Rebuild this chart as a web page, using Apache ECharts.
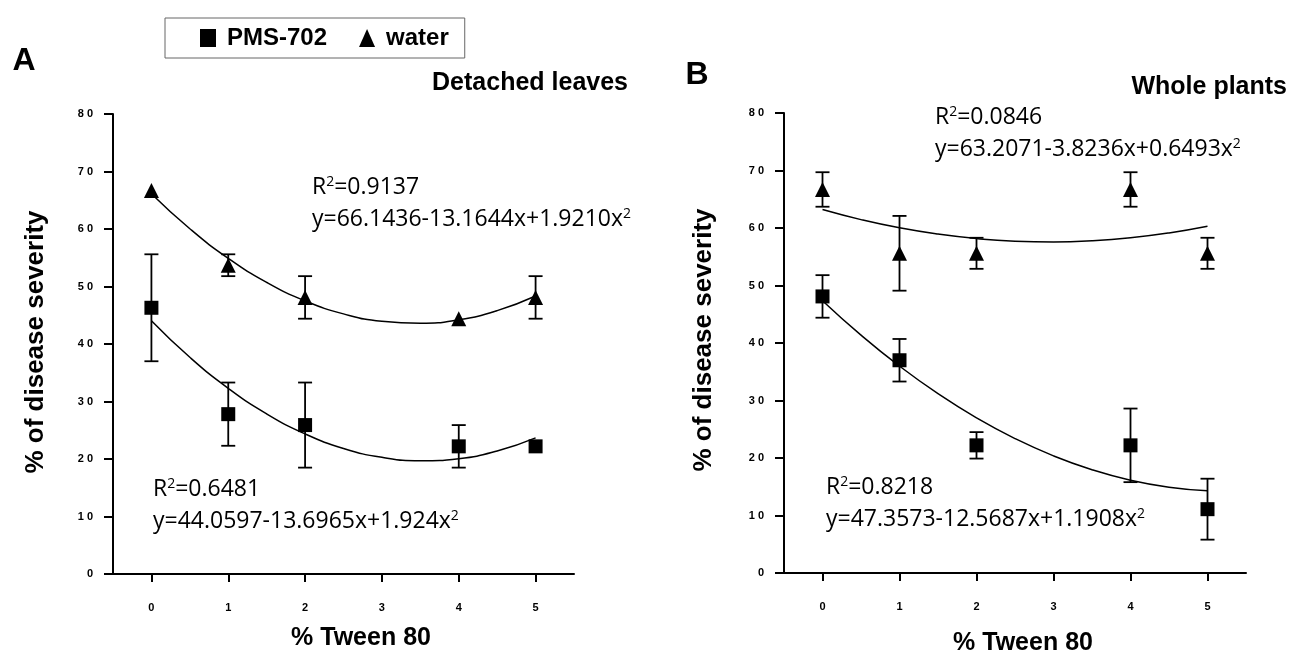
<!DOCTYPE html>
<html>
<head>
<meta charset="utf-8">
<script src="https://cdn.jsdelivr.net/npm/echarts@6/dist/echarts.min.js"></script>
<style>
  html, body { margin: 0; padding: 0; background: #fff; }
  #chart { width: 1290px; height: 653px; }
</style>
</head>
<body>
<div id="chart"></div>
<script>
// % Tween 80 levels
const tween = [0, 1, 2, 4, 5];
const xTicks = [0, 1, 2, 3, 4, 5];
const yTickLabels = ['0', '1 0', '2 0', '3 0', '4 0', '5 0', '6 0', '7 0', '8 0'];

// A - detached leaves (% of disease severity, +/- error)
const leafPms = [46.3, 27.8, 25.9, 22.2, 22.2];
const leafPmsErr = [9.3, 5.5, 7.4, 3.7, 0];
const leafWater = [66.7, 53.7, 48.1, 44.4, 48.1];
const leafWaterErr = [0, 1.9, 3.7, 0, 3.7];

// B - whole plants
const plantPms = [48.1, 37.0, 22.2, 22.2, 11.1];
const plantPmsErr = [3.7, 3.7, 2.3, 6.4, 5.3];
const plantWater = [66.7, 55.6, 55.6, 66.7, 55.6];
const plantWaterErr = [3.0, 6.5, 2.7, 3.0, 2.7];

// fitted curves, read at half steps
const fitX = [0, 0.5, 1, 1.5, 2, 2.5, 3, 3.5, 4, 4.5, 5];
const leafPmsFit = [44.06, 37.69, 32.29, 27.84, 24.36, 21.84, 20.29, 19.69, 20.06, 21.39, 23.68];
const leafWaterFit = [66.14, 60.04, 54.90, 50.72, 47.50, 45.24, 43.94, 43.60, 44.22, 45.80, 48.35];
const plantPmsFit = [47.36, 41.37, 35.98, 31.19, 26.98, 23.38, 20.37, 17.96, 16.14, 14.92, 14.29];
const plantWaterFit = [63.21, 61.46, 60.03, 58.94, 58.16, 57.71, 57.58, 57.78, 58.30, 59.15, 60.32];

const eqLeafWater = ['0.9137', 'y=66.1436-13.1644x+1.9210x'];
const eqLeafPms = ['0.6481', 'y=44.0597-13.6965x+1.924x'];
const eqPlantWater = ['0.0846', 'y=63.2071-3.8236x+0.6493x'];
const eqPlantPms = ['0.8218', 'y=47.3573-12.5687x+1.1908x'];

const black = '#000';
const boldFont = '"Liberation Sans", Arial, sans-serif';
const eqFont = '"Open Sans", sans-serif';

const pairs = (xs, ys) => xs.map((x, i) => [x, ys[i]]);
const errData = (vals, errs) => tween
    .map((x, i) => [x, vals[i] - errs[i], vals[i] + errs[i]])
    .filter(d => d[2] > d[1]);

const renderErr = (params, api) => {
    const x = api.value(0);
    const top = api.coord([x, api.value(2)]);
    const bot = api.coord([x, api.value(1)]);
    const w = 7;
    const st = { stroke: black, lineWidth: 1.8 };
    return {
        type: 'group',
        children: [
            { type: 'line', shape: { x1: top[0], y1: top[1], x2: bot[0], y2: bot[1] }, style: st },
            { type: 'line', shape: { x1: top[0] - w, y1: top[1], x2: top[0] + w, y2: top[1] }, style: st },
            { type: 'line', shape: { x1: bot[0] - w, y1: bot[1], x2: bot[0] + w, y2: bot[1] }, style: st },
        ],
    };
};

const mkX = (idx) => ({
    type: 'value',
    gridIndex: idx,
    min: -0.5,
    max: 5.5,
    axisLine: { onZero: false, lineStyle: { color: black, width: 2 } },
    axisTick: { show: true, customValues: xTicks, length: 8, lineStyle: { color: black, width: 2 } },
    axisLabel: { customValues: xTicks, margin: 28, color: black, fontSize: 11, fontWeight: 'bold', fontFamily: boldFont },
    splitLine: { show: false },
});

const mkY = (idx) => ({
    type: 'value',
    gridIndex: idx,
    min: 0,
    max: 80,
    interval: 10,
    axisLine: { show: true, onZero: false, lineStyle: { color: black, width: 2 } },
    axisTick: { show: true, length: 9, lineStyle: { color: black, width: 2 } },
    axisLabel: {
        margin: 20, color: black, fontSize: 11, fontWeight: 'bold', fontFamily: boldFont,
        formatter: v => yTickLabels[Math.round(v / 10)],
    },
    splitLine: { show: false },
});

const panelSeries = (idx, pms, pmsErr, water, waterErr, pmsFit, waterFit) => [
    {
        name: 'fit-pms-' + idx, type: 'line', xAxisIndex: idx, yAxisIndex: idx,
        data: pairs(fitX, pmsFit), smooth: true, showSymbol: false, silent: true,
        lineStyle: { color: black, width: 1.5 }, z: 2,
    },
    {
        name: 'fit-water-' + idx, type: 'line', xAxisIndex: idx, yAxisIndex: idx,
        data: pairs(fitX, waterFit), smooth: true, showSymbol: false, silent: true,
        lineStyle: { color: black, width: 1.5 }, z: 2,
    },
    {
        name: 'err-pms-' + idx, type: 'custom', xAxisIndex: idx, yAxisIndex: idx,
        data: errData(pms, pmsErr), renderItem: renderErr, encode: { x: 0, y: [1, 2] }, z: 3,
    },
    {
        name: 'err-water-' + idx, type: 'custom', xAxisIndex: idx, yAxisIndex: idx,
        data: errData(water, waterErr), renderItem: renderErr, encode: { x: 0, y: [1, 2] }, z: 3,
    },
    {
        name: 'PMS-702', type: 'scatter', xAxisIndex: idx, yAxisIndex: idx,
        data: pairs(tween, pms), symbol: 'rect', symbolSize: 14,
        itemStyle: { color: black, opacity: 1 }, z: 4,
    },
    {
        name: 'water', type: 'scatter', xAxisIndex: idx, yAxisIndex: idx,
        data: pairs(tween, water), symbol: 'triangle', symbolSize: 15,
        itemStyle: { color: black, opacity: 1 }, z: 4,
    },
];

const eqRich = {
    n: { font: '23px ' + eqFont, fill: black },
    s: { font: '14px ' + eqFont, fill: black, verticalAlign: 'top' },
};
const eqText = (x, y1, y2, eq) => [
    { type: 'text', x: x, y: y1, style: { text: '{n|R}{s|2}{n|=' + eq[0] + '}', rich: eqRich, verticalAlign: 'middle' } },
    { type: 'text', x: x, y: y2, style: { text: '{n|' + eq[1] + '}{s|2}', rich: eqRich, verticalAlign: 'middle' } },
];
const label = (x, y, text, size, align, rot) => ({
    type: 'text', x: x, y: y, rotation: rot || 0,
    style: { text: text, font: 'bold ' + size + 'px ' + boldFont, fill: black, align: align || 'center', verticalAlign: 'middle' },
});

const option = {
    animation: false,
    backgroundColor: '#fff',
    legend: {
        left: 165,
        top: 18,
        padding: [8, 16, 8, 35],
        itemGap: 32,
        itemWidth: 16,
        itemHeight: 18,
        borderColor: '#666',
        borderWidth: 1,
        data: [{ name: 'PMS-702', icon: 'rect' }, { name: 'water', icon: 'triangle' }],
        textStyle: { color: black, fontSize: 24, fontWeight: 'bold', fontFamily: boldFont, padding: [0, 0, 0, 6] },
    },
    grid: [
        { left: 113, top: 114, width: 461, height: 460 },
        { left: 784, top: 113, width: 462, height: 460 },
    ],
    xAxis: [mkX(0), mkX(1)],
    yAxis: [mkY(0), mkY(1)],
    series: [
        ...panelSeries(0, leafPms, leafPmsErr, leafWater, leafWaterErr, leafPmsFit, leafWaterFit),
        ...panelSeries(1, plantPms, plantPmsErr, plantWater, plantWaterErr, plantPmsFit, plantWaterFit),
    ],
    graphic: [
        label(24, 61, 'A', 32),
        label(628, 83, 'Detached leaves', 25, 'right'),
        label(697, 75, 'B', 32),
        label(1287, 87, 'Whole plants', 25, 'right'),
        label(36, 342, '% of disease severity', 26, 'center', Math.PI / 2),
        label(704, 340, '% of disease severity', 26, 'center', Math.PI / 2),
        label(361, 638, '% Tween 80', 25),
        label(1023, 643, '% Tween 80', 25),
        ...eqText(312, 187, 219, eqLeafWater),
        ...eqText(153, 489, 521, eqLeafPms),
        ...eqText(935, 117, 149, eqPlantWater),
        ...eqText(826, 487, 519, eqPlantPms),
    ],
};

const chart = echarts.init(document.getElementById('chart'));
chart.setOption(option);
</script>
</body>
</html>
